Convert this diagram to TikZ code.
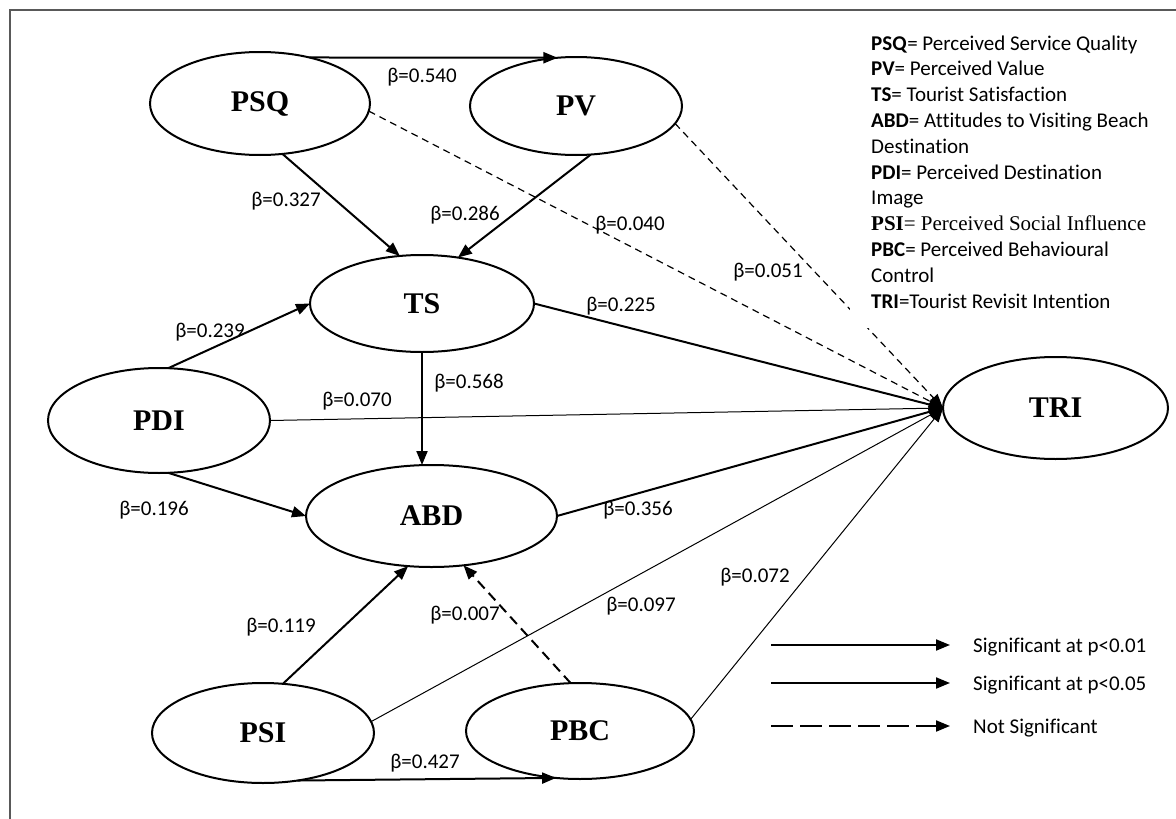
\documentclass[tikz,border=0pt]{standalone}
\usepackage{fontspec}
\setmainfont{Liberation Serif}
\newfontfamily\calib[Ligatures=NoCommon]{Carlito}
\usetikzlibrary{arrows.meta,shapes.geometric}

\begin{document}
\begin{tikzpicture}[x=1pt,y=-1pt,
  construct/.style={draw, ellipse, line width=2pt, inner sep=0pt, outer sep=0pt,
    font=\fontsize{30}{30}\selectfont\bfseries},
  tip/.style={-{Triangle[length=14pt,width=11pt]}},
  sigpath/.style={tip, line width=2pt},
  thinpath/.style={tip, line width=1pt},
  nspath/.style={tip, line width=1.2pt, dash pattern=on 7pt off 5pt},
  nsthick/.style={tip, line width=2pt, dash pattern=on 10pt off 6pt},
  keydash/.style={tip, line width=2pt, dash pattern=on 22pt off 7pt},
  coef/.style={font=\calib\fontsize{21}{25}\selectfont, inner sep=0pt, anchor=base},
  keytext/.style={font=\calib\fontsize{21}{25.8}\selectfont, inner sep=0pt, anchor=base west},
]
\useasboundingbox (0,0) rectangle (1176,819);

% frame
\draw[line width=2pt, color=black!65] (1176,10) -- (10,10) -- (10,819);

% constructs
\node[construct, minimum width=220pt, minimum height=103pt] (PSQ) at (260,103.5) {PSQ};
\node[construct, minimum width=212pt, minimum height=98pt]  (PV)  at (576,106)   {PV};
\node[construct, minimum width=224pt, minimum height=97pt]  (TS)  at (422,303.5) {TS};
\node[construct, minimum width=222pt, minimum height=105pt] (PDI) at (159,420.5) {PDI};
\node[construct, minimum width=251pt, minimum height=102pt] (ABD) at (431.5,516) {ABD};
\node[construct, minimum width=222pt, minimum height=100pt] (PSI) at (263,733)   {PSI};
\node[construct, minimum width=228pt, minimum height=96pt]  (PBC) at (580,731)   {PBC};
\node[construct, minimum width=225pt, minimum height=102pt] (TRI) at (1055.5,408) {TRI};

% paths
\draw[sigpath]  (PSQ.43)  -- (PV.111);
\draw[sigpath]  (PSQ.-66) -- (TS.115);
\draw[sigpath]  (PV.-73)  -- (TS.52);
\draw[nspath]   (PSQ.-4)  -- (TRI.west);
\draw[nspath]   (PV.-10)  -- (TRI.west);
\draw[sigpath]  (TS.east) -- (TRI.west);
\draw[sigpath]  (TS.south) -- (TS.south |- ABD.north);
\draw[sigpath]  (PDI.80)  -- (TS.west);
\draw[thinpath] (PDI.east) -- (TRI.west);
\draw[sigpath]  (PDI.-80) -- (ABD.west);
\draw[sigpath]  (ABD.east) -- (TRI.west);
\draw[sigpath]  (PSI.68)  -- (ABD.-115);
\draw[nsthick]  (PBC.101) -- (ABD.-57);
\draw[thinpath] (PSI.6)   -- (TRI.west);
\draw[thinpath] (PBC.6)   -- (TRI.west);
\draw[sigpath]  (PSI.-54) -- (PBC.-117);

% path coefficients
\node[coef] (c1)  at (422,82)  {β=0.540};
\node[coef] (c2)  at (286,206) {β=0.327};
\node[coef] (c3)  at (465,220) {β=0.286};
\node[coef] (c4)  at (630,230) {β=0.040};
\node[coef] (c5)  at (768,277) {β=0.051};
\node[coef] (c6)  at (621,311) {β=0.225};
\node[coef] (c7)  at (469,388) {β=0.568};
\node[coef] (c8)  at (210,337) {β=0.239};
\node[coef] (c9)  at (357,406) {β=0.070};
\node[coef] (c10) at (154,515) {β=0.196};
\node[coef] (c11) at (638,515) {β=0.356};
\node[coef] (c12) at (281,632) {β=0.119};
\node[coef] (c13) at (465,620) {β=0.007};
\node[coef] (c14) at (641,611) {β=0.097};
\node[coef] (c15) at (755,582) {β=0.072};
\node[coef] (c16) at (425,768) {β=0.427};

% abbreviations key
\node[fill=white, anchor=north west, minimum width=320pt, minimum height=303pt, inner sep=0pt] (keybox) at (850,25) {};
\node[keytext] (a1)  at (871,50)    {\textbf{PSQ}= Perceived Service Quality};
\node[keytext] (a2)  at (871,75.8)  {\textbf{PV}= Perceived Value};
\node[keytext] (a3)  at (871,101.6) {\textbf{TS}= Tourist Satisfaction};
\node[keytext] (a4)  at (871,127.4) {\textbf{ABD}= Attitudes to Visiting Beach};
\node[keytext] (a5)  at (871,153.2) {Destination};
\node[keytext] (a6)  at (871,179)   {\textbf{PDI}= Perceived Destination};
\node[keytext] (a7)  at (871,204.8) {Image};
\node[keytext] (a8)  at (871,230.6) {\rmfamily\textbf{PSI}= Perceived Social Influence};
\node[keytext] (a9)  at (871,256.4) {\textbf{PBC}= Perceived Behavioural};
\node[keytext] (a10) at (871,282.2) {Control};
\node[keytext] (a11) at (871,308)   {\textbf{TRI}=Tourist Revisit Intention};

% significance key
\coordinate (k1s) at (771,645); \coordinate (k1e) at (950,645);
\coordinate (k2s) at (771,683); \coordinate (k2e) at (950,683);
\coordinate (k3s) at (771,726); \coordinate (k3e) at (950,726);
\draw[sigpath] (k1s) -- (k1e);
\draw[sigpath] (k2s) -- (k2e);
\draw[keydash] (k3s) -- (k3e);
\node[keytext] (k1) at (973,652) {Significant at p<0.01};
\node[keytext] (k2) at (973,690) {Significant at p<0.05};
\node[keytext] (k3) at (973,733) {Not Significant};
\end{tikzpicture}
\end{document}
